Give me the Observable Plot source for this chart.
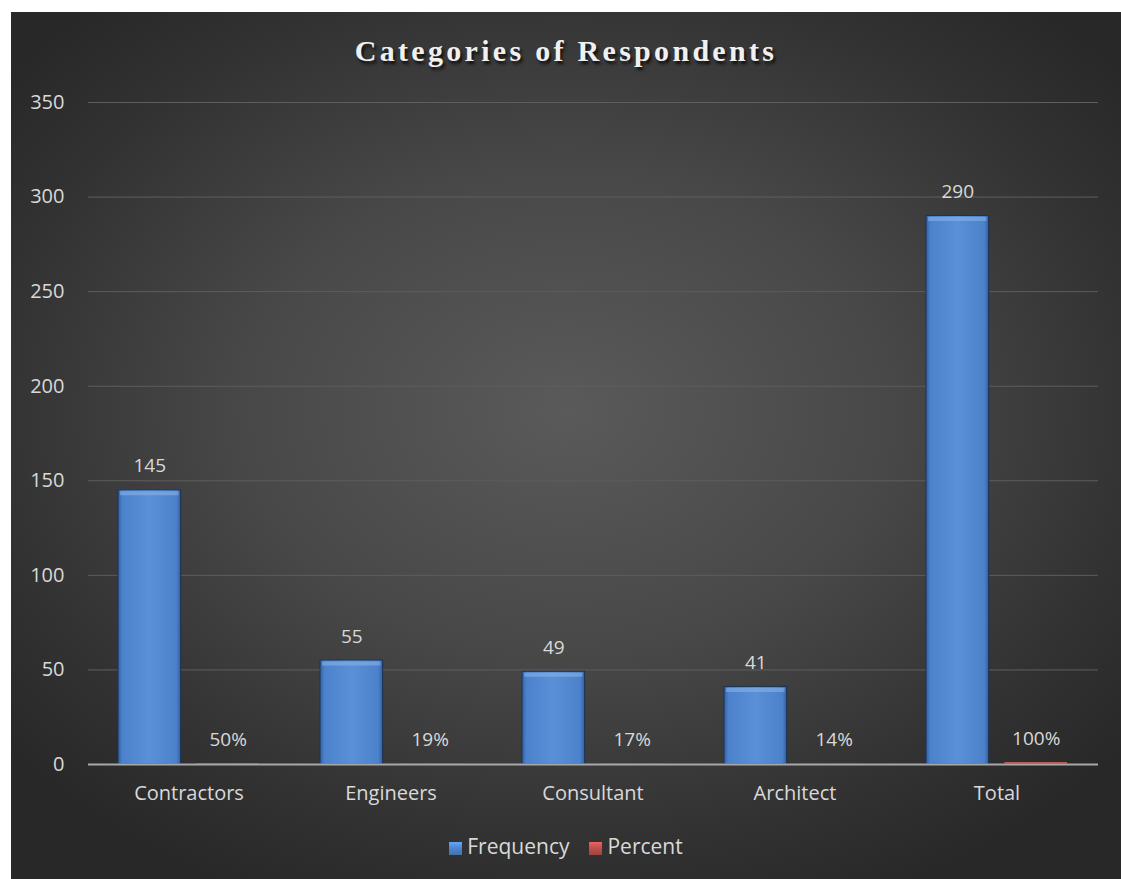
<!DOCTYPE html>
<html>
<head>
<meta charset="utf-8">
<script src="https://cdn.jsdelivr.net/npm/d3@7"></script>
<script src="https://cdn.jsdelivr.net/npm/@observablehq/plot@0.6"></script>
<style>
  html, body { margin: 0; padding: 0; background: #ffffff; }
  #chart {
    position: absolute; left: 11px; top: 12px; width: 1110px; height: 867px;
    background: radial-gradient(ellipse 65% 62% at 50% 46%, #5a5a5a 0%, #484848 45%, #323232 80%, #282828 100%);
    overflow: hidden;
  }
  #title {
    position: absolute; left: 0; top: 22px; width: 100%; text-align: center;
    font-family: "Liberation Serif", "Times New Roman", serif; font-weight: bold;
    font-size: 30px; letter-spacing: 3.3px; color: #f0f0f0;
    text-shadow: 2px 3px 3px rgba(0,0,0,0.75);
  }
  #plot { position: absolute; left: 0; top: 68px; }
  #legend {
    position: absolute; left: 0; top: 820px; width: 100%; text-align: center;
    font-family: "Open Sans", Lato, sans-serif; font-size: 21px; color: #d9d9d9;
  }
  #legend span.item { display: inline-block; margin: 0 10px; }
  #legend span.sw { display: inline-block; width: 13px; height: 13px; margin-right: 5px; vertical-align: -1px; }
</style>
</head>
<body>
<div id="chart">
  <div id="title">Categories of Respondents</div>
  <div id="plot"></div>
  <div id="legend"></div>
</div>
<script>
const categories = ["Contractors", "Engineers", "Consultant", "Architect", "Total"];
const frequency = [145, 55, 49, 41, 290];
const percent = [0.50, 0.19, 0.17, 0.14, 1.00];
const percentLabels = ["50%", "19%", "17%", "14%", "100%"];
const yTicks = [0, 50, 100, 150, 200, 250, 300, 350];
const seriesNames = ["Frequency", "Percent"];
const seriesColors = ["#4f86cf", "#c0504d"];

const rows = categories.map((c, i) => ({
  category: c, frequency: frequency[i], percent: percent[i], pctLabel: percentLabels[i]
}));

const bandInset = 78.4;   // half-group offset inside each category band
const halfShift = 39.2;

const svg = Plot.plot({
  width: 1110,
  height: 732,
  marginLeft: 77,
  marginRight: 23,
  marginTop: 22,
  marginBottom: 48,
  style: { background: "transparent", color: "#d9d9d9", fontFamily: "'Open Sans', Lato, sans-serif", fontSize: "20px" },
  x: { domain: categories, paddingInner: 0.3, paddingOuter: 0.15, label: null, tickSize: 0, tickPadding: 21 },
  y: { domain: [0, 350], ticks: yTicks, label: null, tickSize: 0, tickPadding: 24 },
  marks: [
    Plot.ruleY(yTicks.filter(d => d > 0), { stroke: "#5e5e5e", strokeWidth: 1 }),
    Plot.barY(rows, {
      x: "category", y: "frequency", insetRight: bandInset,
      fill: "url(#blueGrad)", stroke: "#1d3356", strokeWidth: 1
    }),
    Plot.tickY(rows, {
      x: "category", y: "frequency", insetLeft: 2, insetRight: bandInset + 2, dy: 3,
      stroke: "#8cb6ea", strokeWidth: 4, strokeOpacity: 0.55
    }),
    Plot.ruleY([0], { stroke: "#a8a8a8", strokeWidth: 2 }),
    Plot.barY(rows, { x: "category", y: "percent", insetLeft: bandInset, fill: "#d0605c" }),
    Plot.text(rows, {
      x: "category", y: "frequency", text: d => String(d.frequency), dx: -halfShift, dy: -24,
      fill: "#d9d9d9", fontSize: 19
    }),
    Plot.text(rows, {
      x: "category", y: "percent", text: "pctLabel", dx: halfShift, dy: -24,
      fill: "#d9d9d9", fontSize: 19
    })
  ]
});

svg.insertAdjacentHTML("afterbegin", `
<defs>
  <linearGradient id="blueGrad" x1="0" y1="0" x2="1" y2="0">
    <stop offset="0" stop-color="#33609f"/>
    <stop offset="0.07" stop-color="#4c82cb"/>
    <stop offset="0.5" stop-color="#5a90d8"/>
    <stop offset="0.93" stop-color="#4c82cb"/>
    <stop offset="1" stop-color="#33609f"/>
  </linearGradient>
</defs>`);
document.getElementById("plot").appendChild(svg);

const legend = document.getElementById("legend");
seriesNames.forEach((name, i) => {
  const item = document.createElement("span");
  item.className = "item";
  const sw = document.createElement("span");
  sw.className = "sw";
  sw.style.background = `linear-gradient(180deg, ${d3.color(seriesColors[i]).brighter(0.6)} 0%, ${seriesColors[i]} 45%, ${d3.color(seriesColors[i]).darker(0.5)} 100%)`;
  item.appendChild(sw);
  item.appendChild(document.createTextNode(name));
  legend.appendChild(item);
});
</script>
</body>
</html>
